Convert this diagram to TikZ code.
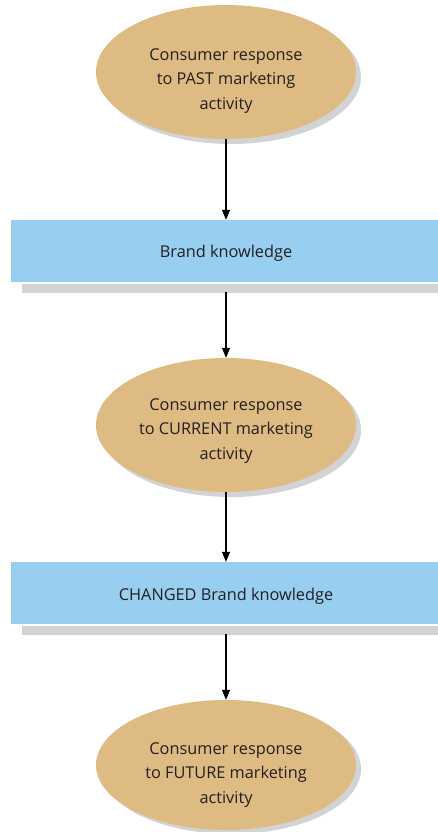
\documentclass[tikz,border=0pt]{standalone}
\usepackage{fontspec}
\setmainfont{Open Sans}
\usetikzlibrary{shapes.geometric,arrows.meta}
\definecolor{tan}{RGB}{222,187,131}
\definecolor{lblue}{RGB}{152,206,240}
\definecolor{shade}{RGB}{210,211,213}
\definecolor{txt}{RGB}{35,31,32}
\tikzset{
  oval/.style={ellipse, fill=tan, minimum width=260pt, minimum height=134pt, inner sep=0pt},
  lbl/.style={align=center, font=\fontsize{16.3}{24.5}\selectfont, text=txt, inner sep=0pt},
  ovalshadow/.style={ellipse, fill=shade, minimum width=260pt, minimum height=134pt, inner sep=0pt},
  band/.style={rectangle, fill=lblue, minimum width=427pt, minimum height=62pt, inner sep=0pt},
  bandshadow/.style={rectangle, fill=shade, minimum width=416pt, minimum height=9pt, inner sep=0pt},
  arr/.style={-{Triangle[width=8pt,length=10pt]}, line width=1.1pt, black}
}
\begin{document}
\begin{tikzpicture}[x=1pt,y=-1pt]
\useasboundingbox (0,0) rectangle (438,832);
% shadows
\node[ovalshadow] at (231,77) {};
\node[bandshadow] at (230,288) {};
\node[ovalshadow] at (231,430) {};
\node[bandshadow] at (230,630) {};
\node[ovalshadow, minimum height=130pt] at (231,769) {};
% main shapes
\node[oval] (o1) at (226,72) {};
\node[lbl] (t1) at (226,81) {Consumer response\\to PAST marketing\\activity};
\node[band] (b1) at (224.5,251) {};
\node[lbl] (tb1) at (226,253) {Brand knowledge};
\node[oval] (o2) at (226,425) {};
\node[lbl] (t2) at (226,431) {Consumer response\\to CURRENT marketing\\activity};
\node[band] (b2) at (224.5,593) {};
\node[lbl] (tb2) at (226,596) {CHANGED Brand knowledge};
\node[oval, minimum height=130pt] (o3) at (226,765) {};
\node[lbl] (t3) at (226,775) {Consumer response\\to FUTURE marketing\\activity};
% coordinates for arrow starts below shadows
\coordinate (s1) at (226,292);
\coordinate (s2) at (226,634);
\draw[arr] (o1.south) -- (o1.south |- b1.north);
\draw[arr] (s1) -- (o2.north);
\draw[arr] (o2.south) -- (o2.south |- b2.north);
\draw[arr] (s2) -- (o3.north);
\end{tikzpicture}
\end{document}
